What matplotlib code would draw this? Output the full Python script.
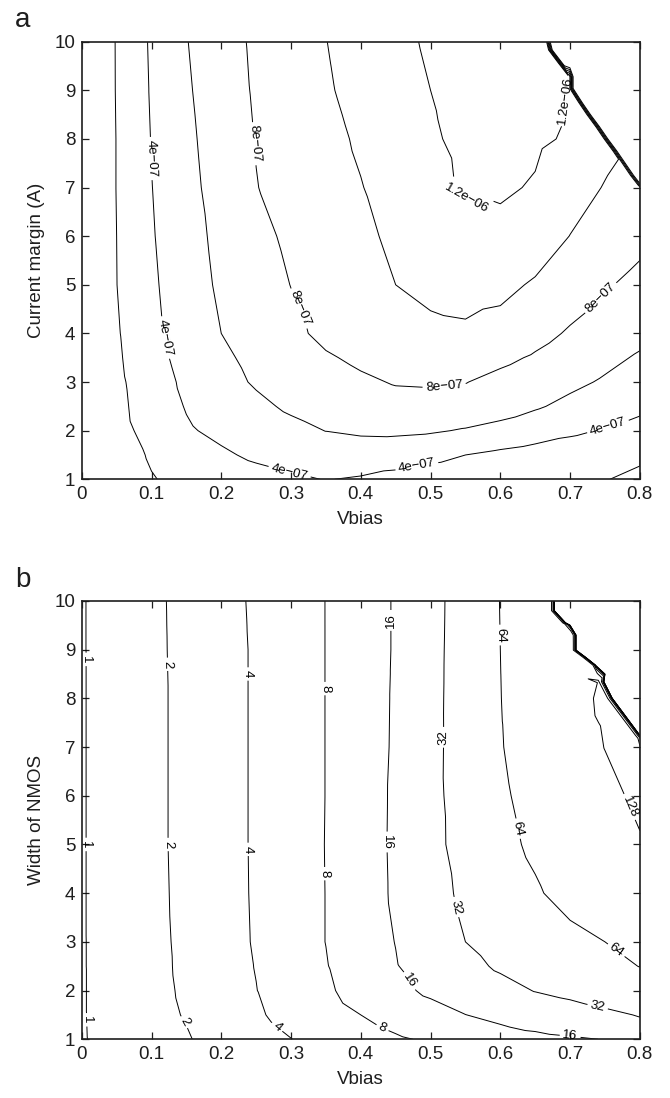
import numpy as np
import matplotlib
matplotlib.use("Agg")
import matplotlib.pyplot as plt
import matplotlib.tri as mtri

plt.rcParams['font.family'] = ['Liberation Sans', 'DejaVu Sans']

# ---------------- data ----------------
vbias = [0.00, 0.05, 0.10, 0.15, 0.20, 0.25, 0.30, 0.35, 0.40,
         0.45, 0.50, 0.55, 0.60, 0.65, 0.70, 0.75, 0.80]

# panel a : value in units of 1e-7 (0 = failed region, nan = not sampled)
margin_y = [1, 1.5, 2, 2.5, 3, 3.5, 4, 5, 6, 7, 8, 8.5, 9, 9.5, 10]
margin_z = [
    [0, 0.9, 1.9, 2.5, 3.0, 3.4, 3.75, 4.05, 3.85, 3.5, 3.2, 2.95, 2.7, 2.45, 2.25, 2.05, 1.7],
    [0, 1.1, 2.2, 3.0, 3.75, 4.3, 4.7, 4.9, 4.95, 4.8, 4.45, 4.0, 3.6, 3.25, 2.95, 2.6, 2.25],
    [0, 1.4, 2.6, 3.8, 4.4, 4.95, 5.5, 6.03, 6.3, 6.35, 6.2, 5.85, 5.4, 4.9, 4.35, 3.85, 3.4],
    [0, 1.5, 2.95, 4.1, 4.85, 5.6, 6.3, 6.8, 7.2, 7.45, 7.5, 7.3, 6.85, 6.2, 5.55, 4.95, 4.4],
    [0, 1.6, 3.1, 4.37, 5.35, 6.2, 6.8, 7.3, 7.75, 8.1, 8.15, 8.05, 7.5, 7.0, 6.4, 5.8, 5.2],
    [0, 1.72, 3.35, 4.63, 5.67, 6.47, 7.15, 7.83, 8.3, 8.6, 8.75, 8.7, 8.4, 7.8, 7.1, 6.45, 5.8],
    [0, 1.82, 3.53, 4.84, 6.0, 6.8, 7.61, 8.4, 8.9, 9.35, 9.65, 9.75, 9.4, 8.6, 7.8, 7.1, 6.5],
    [0, 1.98, 3.7, 5.1, 6.3, 7.17, 8.03, 8.68, 9.34, 10.0, 10.4, 10.6, 10.45, 9.8, 8.99, 8.18, 7.5],
    [0, 2.0, 3.85, 5.27, 6.49, 7.51, 8.34, 9.0, 9.67, 10.3, 10.8, 11.3, 11.5, 11.0, 9.97, 9.2, 8.5],
    [0, 2.04, 3.96, 5.44, 6.75, 7.95, 8.63, 9.28, 9.93, 10.73, 11.54, 12.2, 12.25, 11.85, 10.8, 9.9, 9.3],
    [0, 2.04, 4.06, 5.6, 6.9, 8.07, 8.79, 9.5, 10.24, 11.04, 11.84, 12.3, 12.5, 12.3, 11.8, np.nan, 0],
    [0, 2.06, 4.11, 5.68, 6.98, 8.14, 8.9, 9.65, 10.4, 11.16, 11.92, 12.35, 12.55, 12.4, 11.95, 0, 0],
    [0, 2.08, 4.16, 5.77, 7.07, 8.21, 9.0, 9.81, 10.55, 11.28, 12.0, 12.4, 12.6, 12.5, np.nan, 0, 0],
    [0, 2.085, 4.2, 5.85, 7.15, 8.26, 9.07, 9.89, 10.64, 11.39, 12.13, 12.6, 12.9, 13.0, 0, 0, 0],
    [0, 2.09, 4.24, 5.93, 7.22, 8.31, 9.14, 9.97, 10.73, 11.5, 12.26, 12.8, 13.2, 13.5, 0, 0, 0],
]
margin_levels = [2e-7, 4e-7, 6e-7, 8e-7, 1.0e-6, 1.2e-6]
# edge of the failed region (panel a) and value just inside it (1e-7)
edge_a_x = [0.669, 0.672, 0.687, 0.702, 0.702, 0.715, 0.727, 0.740, 0.752, 0.765, 0.777, 0.789, 0.800]
edge_a_y = [10.0, 9.83, 9.55, 9.28, 9.04, 8.75, 8.5, 8.25, 8.0, 7.75, 7.5, 7.25, 7.05]
edge_a_z = [13.6, 13.3, 12.6, 12.1, 11.9, 11.5, 11.1, 10.8, 10.5, 10.2, 9.9, 9.6, 9.4]

# panel b
width_y = [1, 1.25, 1.5, 2, 2.5, 3, 4, 5, 6, 7, 7.5, 8, 8.5, 9, 9.5, 10]
width_z = [
    [0.957, 1.21, 1.52, 1.91, 2.44, 3.11, 3.96, 4.88, 5.99, 7.37, 8.64, 9.83, 11.2, 12.7, 14.4, 16.4, 18.5],
    [0.96, 1.23, 1.56, 1.99, 2.6, 3.4, 4.4, 5.58, 7.07, 8.74, 10.5, 12.7, 15.3, 17.9, 20.8, 24.1, 28.0],
    [0.96, 1.24, 1.61, 2.08, 2.77, 3.69, 4.8, 6.2, 8.0, 10.0, 12.6, 15.9, 18.4, 21.3, 24.6, 28.5, 32.9],
    [0.96, 1.26, 1.65, 2.17, 2.93, 3.95, 5.36, 7.26, 9.93, 13.6, 17.7, 21.7, 26.6, 32.6, 36.5, 41.2, 46.5],
    [0.96, 1.27, 1.67, 2.22, 3.0, 4.08, 5.62, 7.75, 10.9, 15.5, 20.6, 27.3, 34.3, 40.2, 47.1, 55.1, 64.6],
    [0.96, 1.27, 1.68, 2.25, 3.07, 4.19, 5.8, 8.06, 11.4, 16.2, 22.8, 32.0, 38.1, 45.3, 53.8, 64.0, 73.0],
    [0.96, 1.28, 1.70, 2.29, 3.11, 4.24, 5.84, 8.06, 11.75, 17.2, 25.3, 35.5, 46.1, 59.8, 76.8, 88.0, 100.0],
    [0.96, 1.28, 1.72, 2.31, 3.14, 4.26, 5.86, 8.1, 11.8, 17.4, 26.7, 38.8, 53.9, 70.6, 86.5, 106.0, 124.0],
    [0.96, 1.28, 1.72, 2.31, 3.14, 4.26, 5.86, 8.06, 11.75, 17.3, 26.9, 40.2, 58.9, 75.4, 93.0, 114.8, 138.0],
    [0.96, 1.28, 1.72, 2.31, 3.14, 4.26, 5.86, 8.06, 11.7, 17.0, 26.7, 41.0, 62.3, 79.6, 101.0, 129.0, 140.0],
    [0.96, 1.28, 1.72, 2.31, 3.14, 4.26, 5.86, 8.06, 11.65, 16.95, 26.6, 41.05, 62.85, 81.3, 110.0, 132.0, np.nan],
    [0.96, 1.28, 1.72, 2.31, 3.14, 4.26, 5.86, 8.06, 11.6, 16.9, 26.5, 41.1, 63.4, 83.0, 118.0, np.nan, 0],
    [0.96, 1.28, 1.72, 2.32, 3.14, 4.26, 5.86, 8.06, 11.6, 16.8, 26.35, 41.05, 63.7, 84.0, 127.0, 0, 0],
    [0.96, 1.29, 1.73, 2.33, 3.14, 4.26, 5.86, 8.06, 11.6, 16.7, 26.2, 41.0, 64.0, 85.0, np.nan, 0, 0],
    [0.96, 1.29, 1.735, 2.34, 3.16, 4.3, 5.88, 8.06, 11.6, 16.7, 26.0, 40.85, 64.3, 90.0, 0, 0, 0],
    [0.96, 1.29, 1.74, 2.35, 3.19, 4.34, 5.9, 8.06, 11.6, 16.7, 25.9, 40.7, 64.6, 95.0, 0, 0, 0],
]
width_levels = [1, 2, 4, 8, 16, 32, 64, 128]
edge_b_x = [0.674, 0.674, 0.690, 0.705, 0.705, 0.719, 0.733, 0.745, 0.757, 0.770, 0.783, 0.796, 0.800]
edge_b_y = [10.0, 9.8, 9.55, 9.3, 8.99, 8.84, 8.68, 8.34, 8.0, 7.75, 7.5, 7.25, 7.18]
edge_b_z = [110, 110, 111, 113, 116, 119, 122, 128.6, 134, 137, 139, 142, 143]

xticks = [0, 0.1, 0.2, 0.3, 0.4, 0.5, 0.6, 0.7, 0.8]
xticklabels = ['0', '0.1', '0.2', '0.3', '0.4', '0.5', '0.6', '0.7', '0.8']
yticks = list(range(1, 11))

INK = '#1e1e1e'


def build(xs, ys, zgrid, ex, ey, ez, scale, half_gap=0.0035):
    X, Y = np.meshgrid(np.asarray(xs, float), np.asarray(ys, float))
    Z = np.asarray(zgrid, float) * scale
    keep = ~np.isnan(Z)
    ex = np.asarray(ex, float)
    ey = np.asarray(ey, float)
    ez = np.asarray(ez, float) * scale
    px = np.concatenate([X[keep], ex - half_gap, ex + half_gap])
    py = np.concatenate([Y[keep], ey, ey])
    pz = np.concatenate([Z[keep], ez, np.zeros_like(ez)])
    t0 = mtri.Triangulation(px / 0.8, py / 9.0)
    tri = mtri.Triangulation(px, py, t0.triangles)
    return tri, pz


def fmt(v):
    return ('%g' % v).replace('-', '\u2212')


def style(ax, ylabel):
    ax.set_xlim(0, 0.8)
    ax.set_ylim(1, 10)
    ax.set_xticks(xticks)
    ax.set_xticklabels(xticklabels)
    ax.set_yticks(yticks)
    ax.tick_params(direction='in', top=True, right=True, length=5, width=0.9,
                   labelsize=13.5, pad=4.5, colors=INK)
    for s in ax.spines.values():
        s.set_linewidth(1.2)
        s.set_color(INK)
    ax.set_xlabel('Vbias', fontsize=13.5, labelpad=6, color=INK)
    ax.set_ylabel(ylabel, fontsize=13.5, labelpad=7, color=INK)


fig = plt.figure(figsize=(6.7, 10.98), dpi=100)
ax1 = fig.add_axes([0.122, 0.5635, 0.833, 0.3985])
ax2 = fig.add_axes([0.122, 0.0535, 0.833, 0.3992])

# panel a
tri_a, z_a = build(vbias, margin_y, margin_z, edge_a_x, edge_a_y, edge_a_z, 1e-7)
cs_a = ax1.tricontour(tri_a, z_a, levels=margin_levels, colors='black', linewidths=0.7)
ax1.clabel(cs_a, fmt=fmt, fontsize=9.5, inline=True, inline_spacing=3,
           manual=[(0.105, 7.6), (0.245, 7.9), (0.115, 3.9), (0.31, 4.5), (0.30, 1.25),
                   (0.48, 1.30), (0.52, 2.85), (0.75, 4.65), (0.755, 2.05),
                   (0.55, 6.5), (0.695, 8.8)])
style(ax1, 'Current margin (A)')

# panel b
tri_b, z_b = build(vbias, width_y, width_z, edge_b_x, edge_b_y, edge_b_z, 1.0)
cs_b = ax2.tricontour(tri_b, z_b, levels=width_levels, colors='black', linewidths=0.7)
ax2.clabel(cs_b, fmt=fmt, fontsize=9.5, inline=True, inline_spacing=3,
           manual=[(0.007, 8.8), (0.007, 5.0), (0.007, 1.4),
                   (0.125, 8.7), (0.126, 5.0), (0.147, 1.35),
                   (0.24, 8.5), (0.24, 4.9), (0.28, 1.25),
                   (0.349, 8.2), (0.348, 4.4), (0.43, 1.2),
                   (0.445, 9.6), (0.44, 5.05), (0.47, 2.2), (0.70, 1.05),
                   (0.52, 7.2), (0.533, 3.7), (0.74, 1.7),
                   (0.60, 9.3), (0.617, 5.3), (0.77, 2.9),
                   (0.782, 5.75)])
style(ax2, 'Width of NMOS')

fig.text(0.022, 0.9754, 'a', fontsize=20, color=INK)
fig.text(0.022, 0.4654, 'b', fontsize=20, color=INK)

fig.savefig('out.png', dpi=100)
